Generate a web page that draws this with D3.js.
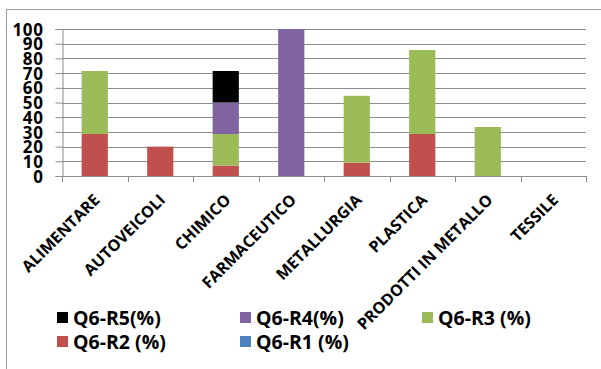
<!DOCTYPE html>
<html>
<head>
<meta charset="utf-8">
<script src="https://cdn.jsdelivr.net/npm/d3@7"></script>
<style>
  html, body { margin: 0; padding: 0; background: #fff; }
  svg { display: block; }
  text { font-family: "Open Sans", "Liberation Sans", sans-serif; font-weight: bold; fill: #000; }
</style>
</head>
<body>
<svg id="chart" width="601" height="369"></svg>
<script>
// Sector categories
const categories = ["ALIMENTARE", "AUTOVEICOLI", "CHIMICO", "FARMACEUTICO",
  "METALLURGIA", "PLASTICA", "PRODOTTI IN METALLO", "TESSILE"];

// Series values (percent), stacked bottom to top R1..R5
const seriesNames = ["Q6-R1 (%)", "Q6-R2 (%)", "Q6-R3 (%)", "Q6-R4(%)", "Q6-R5(%)"];
const r1 = [0, 0, 0, 0, 0, 0, 0, 0];
const r2 = [28.57, 20, 7.14, 0, 9.09, 28.57, 0, 0];
const r3 = [42.86, 0, 21.43, 0, 45.45, 57.14, 33.33, 0];
const r4 = [0, 0, 21.43, 100, 0, 0, 0, 0];
const r5 = [0, 0, 21.43, 0, 0, 0, 0, 0];
const seriesColors = ["#4F81BD", "#C0504D", "#9BBB59", "#8064A2", "#000000"];

// Y axis tick values
const yTicks = [0, 10, 20, 30, 40, 50, 60, 70, 80, 90, 100];

// Legend order (rows of three)
const legendOrder = ["Q6-R5(%)", "Q6-R4(%)", "Q6-R3 (%)", "Q6-R2 (%)", "Q6-R1 (%)"];

const svg = d3.select("#chart");

// Outer chart frame
svg.append("rect")
  .attr("x", 6.5).attr("y", 9.5)
  .attr("width", 640).attr("height", 400)
  .attr("fill", "none").attr("stroke", "#9a9a9a").attr("stroke-width", 1);

const plot = { left: 62, right: 586, top: 29, bottom: 176 };

const x = d3.scaleBand().domain(categories).range([plot.left, plot.right]).padding(0);
const y = d3.scaleLinear().domain([0, 100]).range([plot.bottom, plot.top]);

const rows = categories.map((c, i) => ({
  cat: c,
  "Q6-R1 (%)": r1[i], "Q6-R2 (%)": r2[i], "Q6-R3 (%)": r3[i],
  "Q6-R4(%)": r4[i], "Q6-R5(%)": r5[i]
}));
const stack = d3.stack().keys(seriesNames)(rows);
const color = d3.scaleOrdinal().domain(seriesNames).range(seriesColors);

// Gridlines
svg.append("g")
  .selectAll("line")
  .data(yTicks.filter(d => d > 0))
  .join("line")
  .attr("x1", plot.left).attr("x2", plot.right)
  .attr("y1", d => Math.round(y(d)) + 0.5).attr("y2", d => Math.round(y(d)) + 0.5)
  .attr("stroke", "#8c8c8c").attr("stroke-width", 1);

// Bars
const barW = x.bandwidth() * 0.4;
svg.append("g")
  .selectAll("g")
  .data(stack)
  .join("g")
  .attr("fill", d => color(d.key))
  .selectAll("rect")
  .data(d => d)
  .join("rect")
  .attr("x", d => x(d.data.cat) + (x.bandwidth() - barW) / 2)
  .attr("width", barW)
  .attr("y", d => y(d[1]))
  .attr("height", d => y(d[0]) - y(d[1]));

// Y axis
const yAxis = svg.append("g")
  .attr("transform", `translate(${plot.left + 0.5},0)`)
  .call(d3.axisLeft(y).tickValues(yTicks).tickSize(7).tickPadding(12));
yAxis.select(".domain").attr("stroke", "#8c8c8c");
yAxis.selectAll(".tick line").attr("stroke", "#8c8c8c");
yAxis.selectAll(".tick text")
  .attr("font-size", 17)
  .attr("letter-spacing", 0.6)
  .attr("font-family", "'Open Sans', sans-serif")
  .attr("font-weight", "bold")
  .attr("fill", "#000")
  .attr("dy", "0.36em");

// X axis line and ticks at band edges
const xEdges = categories.map(c => x(c)).concat([plot.right]);
svg.append("line")
  .attr("x1", plot.left).attr("x2", plot.right)
  .attr("y1", plot.bottom + 0.5).attr("y2", plot.bottom + 0.5)
  .attr("stroke", "#8c8c8c");
svg.append("g")
  .selectAll("line")
  .data(xEdges)
  .join("line")
  .attr("x1", d => Math.round(d) + 0.5).attr("x2", d => Math.round(d) + 0.5)
  .attr("y1", plot.bottom).attr("y2", plot.bottom + 6)
  .attr("stroke", "#8c8c8c");

// Rotated category labels
svg.append("g")
  .selectAll("text")
  .data(categories)
  .join("text")
  .attr("transform", d => `translate(${x(d) + x.bandwidth() / 2 + 6},201) rotate(-45)`)
  .attr("text-anchor", "end")
  .attr("font-size", 16)
  .text(d => d);

// Legend
const legPos = [
  { x: 57, y: 318 }, { x: 240, y: 318 }, { x: 422, y: 318 },
  { x: 57, y: 342 }, { x: 240, y: 342 }
];
const leg = svg.append("g")
  .selectAll("g")
  .data(legendOrder)
  .join("g")
  .attr("transform", (d, i) => `translate(${legPos[i].x},${legPos[i].y})`);
leg.append("rect")
  .attr("x", 0).attr("y", -6).attr("width", 11).attr("height", 11)
  .attr("fill", d => color(d));
leg.append("text")
  .attr("x", 16).attr("y", 0).attr("dy", "0.35em")
  .attr("font-size", 19.5)
  .text(d => d);
</script>
</body>
</html>
